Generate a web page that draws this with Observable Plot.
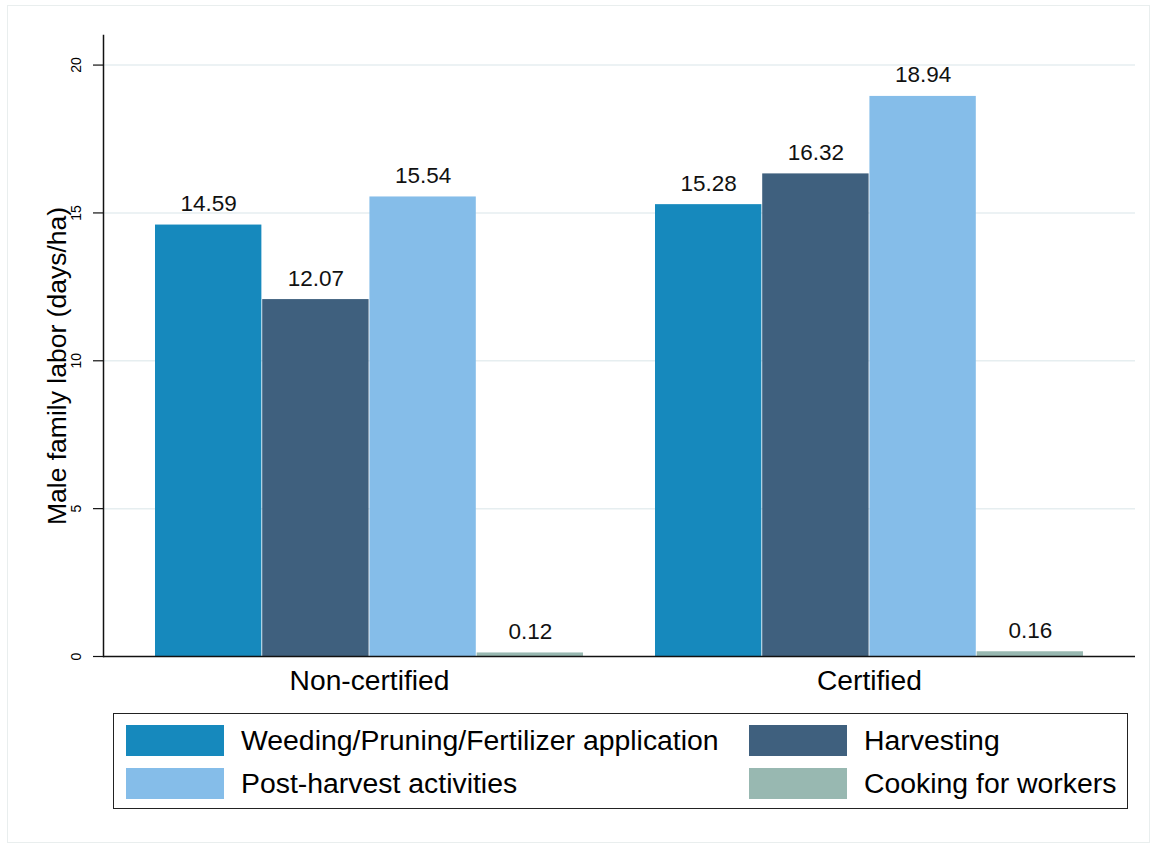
<!DOCTYPE html>
<html><head><meta charset="utf-8">
<script src="https://cdn.jsdelivr.net/npm/d3@7"></script>
<script src="https://cdn.jsdelivr.net/npm/@observablehq/plot@0.6"></script>
<style>
body{margin:0;background:#fff;font-family:"Liberation Sans",Arial,sans-serif;}
#frame{position:absolute;left:7px;top:5px;width:1143px;height:838px;border:1px solid #e9eeee;box-sizing:border-box;}
#chart{position:absolute;left:0;top:0;}
#legend{position:absolute;left:113px;top:713px;width:1015px;height:96px;border:1.5px solid #222;box-sizing:border-box;}
.item{position:absolute;display:flex;align-items:center;font-size:28.4px;color:#000;white-space:nowrap;}
.sw{width:98px;height:31px;margin-right:17px;}
</style></head><body>
<div id="frame"></div><div id="chart"></div><div id="legend"></div>
<script>
const groups = ["Non-certified", "Certified"];
const activities = ["Weeding/Pruning/Fertilizer application", "Harvesting", "Post-harvest activities", "Cooking for workers"];
const nonCertified = [14.59, 12.07, 15.54, 0.12];
const certified = [15.28, 16.32, 18.94, 0.16];
const colors = ["#1689bd", "#3f607e", "#85bde9", "#98b8b1"];
const yTicks = [0, 5, 10, 15, 20];
const yLabel = "Male family labor (days/ha)";

const data = [];
activities.forEach((a, i) => {
  data.push({group: groups[0], activity: a, value: nonCertified[i]});
  data.push({group: groups[1], activity: a, value: certified[i]});
});

const W = 1157, H = 700, mL = 103, mR = 22, mT = 35, mB = 44;
const padIn = 0.144, padOut = 0.102;
const xb = d3.scaleBand(groups, [mL, W - mR]).paddingInner(padIn).paddingOuter(padOut);
const w = xb.bandwidth() / activities.length;

const marks = [
  Plot.ruleY(yTicks.filter(t => t > 0), {stroke: "#e6eef0", strokeWidth: 1.5}),
];
activities.forEach((a, i) => {
  const sub = data.filter(d => d.activity === a);
  marks.push(Plot.barY(sub, {x: "group", y: "value", fill: colors[i],
    insetLeft: i * w, insetRight: (activities.length - 1 - i) * w}));
  marks.push(Plot.text(sub, {x: "group", y: "value", text: d => d.value.toFixed(2),
    dx: (i - (activities.length - 1) / 2) * w, dy: -14, lineAnchor: "bottom",
    fontSize: 22.5, fill: "#111"}));
});
marks.push(
  Plot.ruleY([0], {stroke: "#111", strokeWidth: 1.5}),
  Plot.frame({anchor: "left", stroke: "#111", strokeWidth: 1.5}),
  Plot.axisY({ticks: yTicks, tickSize: 10, tickPadding: 13, tickRotate: -90, fontSize: 14, label: null, stroke: "#111", strokeWidth: 1.2}),
  Plot.axisX({tickSize: 0, tickPadding: 13, fontSize: 28.2, label: null, fill: "#000"}),
  Plot.text([yLabel], {frameAnchor: "left", rotate: -90, dx: -46, dy: 20, fontSize: 26.5, textAnchor: "middle", lineAnchor: "middle", fill: "#000"})
);

const chart = Plot.plot({
  width: W, height: H,
  marginLeft: mL, marginRight: mR, marginTop: mT, marginBottom: mB,
  style: {fontFamily: "'Liberation Sans', Arial, sans-serif", background: "transparent", overflow: "visible"},
  x: {domain: groups, paddingInner: padIn, paddingOuter: padOut, axis: null},
  y: {domain: [0, 21], axis: null},
  marks
});
document.getElementById("chart").appendChild(chart);

const legend = document.getElementById("legend");
const pos = [[12, 10], [635, 10], [12, 53], [635, 53]];
const order = [0, 1, 2, 3];
order.forEach((k, j) => {
  const it = document.createElement("div");
  it.className = "item";
  it.style.left = pos[j][0] + "px";
  it.style.top = pos[j][1] + "px";
  const sw = document.createElement("div");
  sw.className = "sw";
  sw.style.background = colors[k];
  const tx = document.createElement("span");
  tx.textContent = activities[k];
  it.appendChild(sw); it.appendChild(tx);
  legend.appendChild(it);
});
</script>
</body></html>
